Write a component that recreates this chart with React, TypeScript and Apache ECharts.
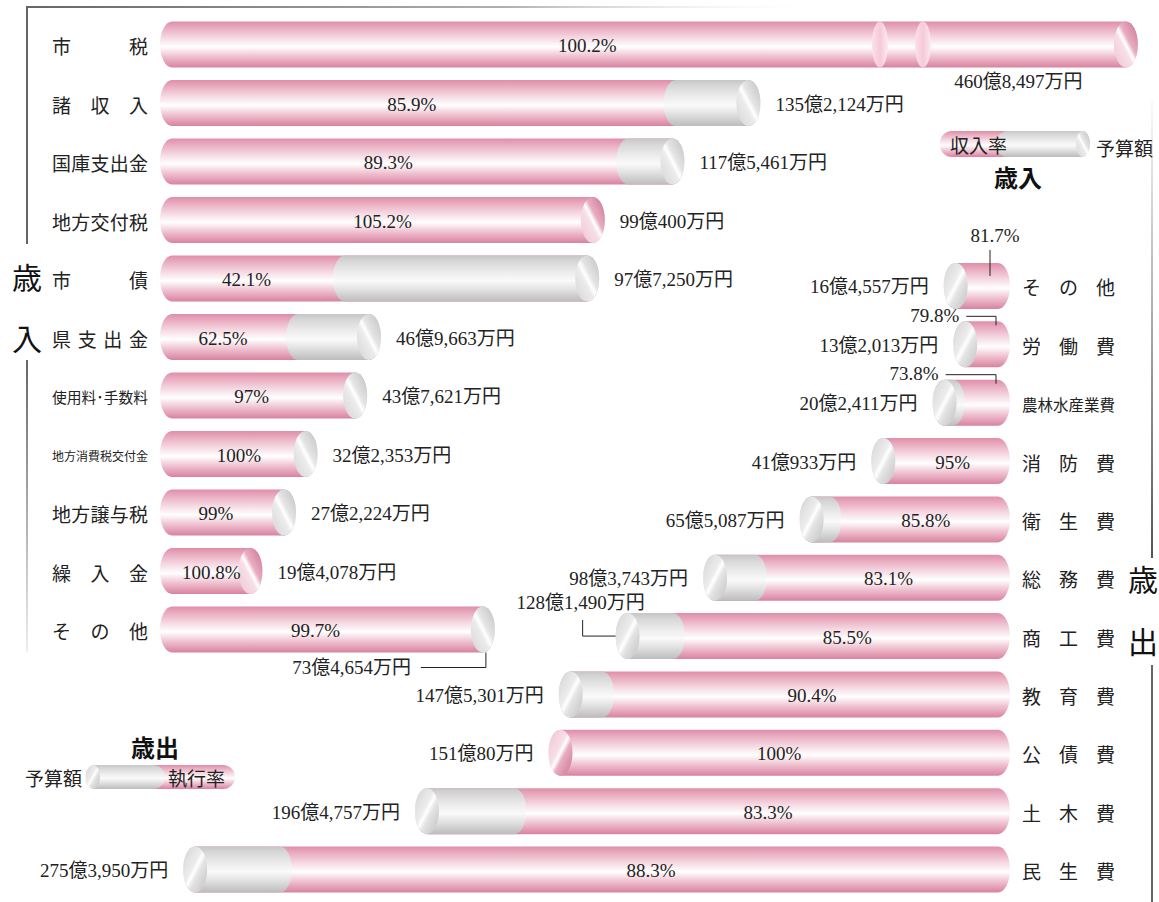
import React, { useEffect, useRef } from 'react';
import * as echarts from 'echarts';

// ===== Data =====
// 歳入 (revenue): budget in 万円, collection rate in %
const revenueCategories = ['市税', '諸収入', '国庫支出金', '地方交付税', '市債', '県支出金', '使用料･手数料', '地方消費税交付金', '地方譲与税', '繰入金', 'その他'];
const revenueBudget = [4608497, 1352124, 1175461, 990400, 977250, 469663, 437621, 322353, 272224, 194078, 734654];
const revenueRate = [100.2, 85.9, 89.3, 105.2, 42.1, 62.5, 97, 100, 99, 100.8, 99.7];

// 歳出 (expenditure): budget in 万円, execution rate in %
const expenditureCategories = ['その他', '労働費', '農林水産業費', '消防費', '衛生費', '総務費', '商工費', '教育費', '公債費', '土木費', '民生費'];
const expenditureBudget = [164557, 132013, 202411, 410933, 655087, 983743, 1281490, 1475301, 1510080, 1964757, 2753950];
const expenditureRate = [81.7, 79.8, 73.8, 95, 85.8, 83.1, 85.5, 90.4, 100, 83.3, 88.3];

// axis settings (億円)
const REV_AXIS_MAX = 224;
const REV_BREAK_MARKS = [163, 173];
const EXP_AXIS_MAX = 300;

// ===== Styles =====
const RX = 12;
const RY = 23;
const REV_CAP = 19;
const EXP_CAP = 18;
const JP = "'Noto Sans CJK JP', sans-serif";
const NUM = "'Liberation Serif', 'Noto Sans CJK JP', serif";
const TXT = '#222';
const NUM_FONT = `19px ${NUM}`;

const G = echarts.graphic.LinearGradient as any;
const pinkBody = () => new G(0, 0, 0, 1, [
  { offset: 0, color: '#df8ea8' },
  { offset: 0.12, color: '#e8a8bc' },
  { offset: 0.35, color: '#f5d8e2' },
  { offset: 0.55, color: '#ffffff' },
  { offset: 0.75, color: '#f0c4d2' },
  { offset: 1, color: '#d8829e' },
]);
const greyBody = () => new G(0, 0, 0, 1, [
  { offset: 0, color: '#c6c6c6' },
  { offset: 0.12, color: '#d6d6d6' },
  { offset: 0.35, color: '#ebebeb' },
  { offset: 0.55, color: '#fafafa' },
  { offset: 0.75, color: '#e0e0e0' },
  { offset: 1, color: '#bcbcbc' },
]);
const greyFace = (rev: boolean) => new G(0, rev ? 1 : 0, 1, rev ? 0 : 1, [
  { offset: 0, color: '#d4d4d4' },
  { offset: 0.42, color: '#ececec' },
  { offset: 0.5, color: '#ffffff' },
  { offset: 0.6, color: '#e4e4e4' },
  { offset: 1, color: '#c0c0c0' },
]);
const pinkFace = (rev: boolean) => new G(0, rev ? 1 : 0, 1, rev ? 0 : 1, [
  { offset: 0, color: '#efc4d3' },
  { offset: 0.42, color: '#f7dfe7' },
  { offset: 0.5, color: '#ffffff' },
  { offset: 0.6, color: '#e8adc0' },
  { offset: 1, color: '#c8728f' },
]);
const breakFace = () => new G(0, 0, 1, 0, [
  { offset: 0, color: '#fbe3eb' },
  { offset: 0.5, color: '#f6c9d7' },
  { offset: 1, color: '#fde9f0' },
]);

function cylPath(a: number, b: number, cy: number, rx: number, ry: number) {
  const t = cy - ry, bt = cy + ry;
  return `M${a + rx} ${t} L${b - rx} ${t} A${rx} ${ry} 0 0 1 ${b - rx} ${bt} L${a + rx} ${bt} A${rx} ${ry} 0 0 1 ${a + rx} ${t} Z`;
}
function ellPath(cx: number, cy: number, rx: number, ry: number) {
  return `M${cx - rx} ${cy} A${rx} ${ry} 0 1 0 ${cx + rx} ${cy} A${rx} ${ry} 0 1 0 ${cx - rx} ${cy} Z`;
}
function pathEl(d: string, fill: any) {
  return { type: 'path', shape: { pathData: d }, style: { fill, stroke: null } };
}
function textEl(text: string, x: number, y: number, font: string, align = 'left') {
  return { type: 'text', style: { text, x, y, font, fill: TXT, align, verticalAlign: 'middle' } };
}
function lineEl(points: number[][]) {
  return { type: 'polyline', shape: { points }, style: { stroke: '#222', lineWidth: 1, fill: null } };
}
function fmtYen(man: number) {
  const oku = Math.floor(man / 10000);
  const rest = man % 10000;
  return `${oku}億${rest.toLocaleString('en-US')}万円`;
}
function isHalf(ch: string) {
  const c = ch.charCodeAt(0);
  return c < 0x2000 || (c >= 0xff61 && c <= 0xff9f);
}
function justified(name: string, left: number, span: number, cy: number, maxF: number) {
  const chars = Array.from(name);
  const units = chars.reduce((s, c) => s + (isHalf(c) ? 0.5 : 1), 0);
  const f = Math.min(maxF, span / units);
  const font = `${f}px ${JP}`;
  if (chars.length > 5) return [textEl(name, left, cy, font)];
  const gap = chars.length > 1 ? (span - units * f) / (chars.length - 1) : 0;
  const out: any[] = [];
  let x = left;
  chars.forEach((c) => {
    out.push(textEl(c, x, cy, font));
    x += (isHalf(c) ? 0.5 : 1) * f + gap;
  });
  return out;
}

function renderRevenue(params: any, api: any) {
  const i = params.dataIndex;
  const val = api.value(0);
  const rate = api.value(1);
  const clamped = val > REV_AXIS_MAX - 1;
  const shown = clamped ? REV_AXIS_MAX - 1 : val;
  const [zx, cy] = api.coord([0, i]);
  const x0 = zx - REV_CAP;
  const xe = api.coord([shown, i])[0];
  const children: any[] = [];
  children.push(pathEl(cylPath(x0, xe, cy, RX, RY), pinkBody()));
  let pinkEnd = xe;
  if (rate < 100) {
    let xs = x0 + (xe - x0) * rate / 100 - RX;
    if (xe - xs < 2 * RX) xs = xe - 2 * RX;
    children.push(pathEl(cylPath(xs, xe, cy, RX, RY), greyBody()));
    pinkEnd = xs;
  }
  children.push(pathEl(ellPath(xe - RX, cy, RX, RY), rate <= 100 ? greyFace(true) : pinkFace(true)));
  let labelCenter = (x0 + pinkEnd) / 2;
  if (clamped) {
    const bx = REV_BREAK_MARKS.map((b) => api.coord([b, i])[0]);
    bx.forEach((b) => children.push(pathEl(ellPath(b, cy, 8, RY), breakFace())));
    labelCenter = (x0 + (bx[1] + xe) / 2) / 2 - 8;
    children.push(textEl(fmtYen(revenueBudget[i]), (bx[1] + xe) / 2 - 12, cy + 37, NUM_FONT, 'center'));
  } else if (revenueCategories[i] === 'その他') {
    children.push(textEl(fmtYen(revenueBudget[i]), xe - 84, cy + 38, NUM_FONT, 'right'));
    children.push(lineEl([[xe - 74, cy + 38], [xe - 9, cy + 38], [xe - 9, cy + RY]]));
  } else {
    children.push(textEl(fmtYen(revenueBudget[i]), xe + 15, cy + 1, NUM_FONT, 'left'));
  }
  children.push(textEl(`${rate}%`, labelCenter, cy + 1, NUM_FONT, 'center'));
  children.push(...justified(revenueCategories[i], x0 - 108, 96, cy + 1, 19));
  return { type: 'group', children };
}

function renderExpenditure(params: any, api: any) {
  const i = params.dataIndex;
  const val = api.value(0);
  const rate = api.value(1);
  const [zx, cy] = api.coord([0, i]);
  const x0 = zx + EXP_CAP;
  const xe = api.coord([val, i])[0];
  const children: any[] = [];
  children.push(pathEl(cylPath(xe, x0, cy, RX, RY), pinkBody()));
  let pinkStart = xe;
  if (rate < 100) {
    let xg = xe + (x0 - xe) * (1 - rate / 100) + RX;
    if (xg - xe < 2 * RX) xg = xe + 2 * RX;
    children.push(pathEl(cylPath(xe, xg, cy, RX, RY), greyBody()));
    pinkStart = xg;
  }
  children.push(pathEl(ellPath(xe + RX, cy, RX, RY), rate < 100 ? greyFace(false) : pinkFace(false)));
  const top = cy - RY;
  if (x0 - xe < 100) {
    if (i === 0) {
      children.push(textEl(`${rate}%`, x0 - 15, top - 27, NUM_FONT, 'center'));
      children.push(lineEl([[x0 - 20, top - 13], [x0 - 20, top + 13]]));
    } else {
      children.push(textEl(`${rate}%`, xe + 6, top - 6, NUM_FONT, 'right'));
      children.push(lineEl([[xe + 13, top - 5], [x0 - 14, top - 5], [x0 - 14, top + 4]]));
    }
  } else {
    children.push(textEl(`${rate}%`, (pinkStart + x0) / 2, cy + 1, NUM_FONT, 'center'));
  }
  if (expenditureCategories[i] === '商工費') {
    children.push(textEl(fmtYen(expenditureBudget[i]), xe - 35, cy - 34, NUM_FONT, 'center'));
    children.push(lineEl([[xe - 33, cy - 16], [xe - 33, cy], [xe, cy]]));
  } else {
    children.push(textEl(fmtYen(expenditureBudget[i]), xe - 15, cy + 1, NUM_FONT, 'right'));
  }
  children.push(...justified(expenditureCategories[i], x0 + 12, 93, cy + 1, 19));
  return { type: 'group', children };
}

function buildOption(): any {
  const lg = (x1: number, y1: number, x2: number, y2: number, stops: [number, string][]) =>
    new G(x1, y1, x2, y2, stops.map(([offset, color]) => ({ offset, color })));
  const title = (text: string, x: number, y: number) => ({
    type: 'text', style: { text, x, y, font: `30px ${JP}`, fill: '#111', align: 'center', verticalAlign: 'middle' },
  });
  const small = (text: string, x: number, y: number) => ({
    type: 'text', style: { text, x, y, font: `19px ${JP}`, fill: TXT, verticalAlign: 'middle' },
  });
  return {
    animation: false,
    backgroundColor: '#ffffff',
    grid: [
      { left: 179, top: 15.25, width: 4.3 * REV_AXIS_MAX, height: 58.5 * 11 },
      { left: 992 - 2.937 * EXP_AXIS_MAX, top: 256.8, width: 2.937 * EXP_AXIS_MAX, height: 58.35 * 11 },
    ],
    xAxis: [
      { type: 'value', gridIndex: 0, min: 0, max: REV_AXIS_MAX, show: false },
      { type: 'value', gridIndex: 1, min: 0, max: EXP_AXIS_MAX, inverse: true, show: false },
    ],
    yAxis: [
      { type: 'category', gridIndex: 0, data: revenueCategories, inverse: true, show: false },
      { type: 'category', gridIndex: 1, data: expenditureCategories, inverse: true, show: false },
    ],
    series: [
      {
        type: 'custom', xAxisIndex: 0, yAxisIndex: 0, silent: true, clip: false,
        encode: { x: 0, y: 2 },
        data: revenueCategories.map((_, i) => [revenueBudget[i] / 10000, revenueRate[i], i]),
        renderItem: renderRevenue,
      },
      {
        type: 'custom', xAxisIndex: 1, yAxisIndex: 1, silent: true, clip: false,
        encode: { x: 0, y: 2 },
        data: expenditureCategories.map((_, i) => [expenditureBudget[i] / 10000, expenditureRate[i], i]),
        renderItem: renderExpenditure,
      },
    ],
    graphic: [
      // frame lines
      { type: 'rect', shape: { x: 26, y: 6, width: 800, height: 2 }, style: { fill: lg(0, 0, 1, 0, [[0, '#666666'], [0.6, '#b0b0b0'], [1, 'rgba(255,255,255,0)']]) } },
      { type: 'rect', shape: { x: 26, y: 6, width: 2, height: 238 }, style: { fill: '#666666' } },
      { type: 'rect', shape: { x: 26, y: 360, width: 2, height: 292 }, style: { fill: lg(0, 0, 0, 1, [[0, '#666666'], [1, '#eeeeee']]) } },
      { type: 'rect', shape: { x: 1151, y: 100, width: 2, height: 458 }, style: { fill: lg(0, 0, 0, 1, [[0, '#fafafa'], [1, '#555555']]) } },
      { type: 'rect', shape: { x: 1151, y: 665, width: 2, height: 237 }, style: { fill: '#666666' } },
      // side titles
      title('歳', 27, 276),
      title('入', 27, 337),
      title('歳', 1143, 578),
      title('出', 1143, 640),
      // legend: 歳入
      { type: 'rect', shape: { x: 940, y: 131, width: 150, height: 26, r: 12 }, style: { fill: pinkBody() } },
      { type: 'rect', shape: { x: 996, y: 131, width: 94, height: 26, r: 12 }, style: { fill: greyBody() } },
      { type: 'ellipse', shape: { cx: 1083, cy: 144, rx: 7, ry: 13 }, style: { fill: greyFace(true) } },
      small('収入率', 950, 144),
      small('予算額', 1096, 147),
      { type: 'text', style: { text: '歳入', x: 1018, y: 176, font: `bold 24px ${JP}`, fill: '#111', align: 'center', verticalAlign: 'middle' } },
      // legend: 歳出
      { type: 'text', style: { text: '歳出', x: 155, y: 746, font: `bold 24px ${JP}`, fill: '#111', align: 'center', verticalAlign: 'middle' } },
      small('予算額', 25, 777),
      { type: 'rect', shape: { x: 85, y: 765, width: 150, height: 24, r: 12 }, style: { fill: pinkBody() } },
      { type: 'rect', shape: { x: 85, y: 765, width: 80, height: 24, r: 12 }, style: { fill: greyBody() } },
      { type: 'ellipse', shape: { cx: 93, cy: 777, rx: 7, ry: 12 }, style: { fill: greyFace(false) } },
      small('執行率', 168, 777),
    ],
  };
}

export default function App() {
  const ref = useRef<HTMLDivElement>(null);
  useEffect(() => {
    if (!ref.current) return;
    const chart = echarts.init(ref.current, null, { renderer: 'svg' });
    chart.setOption(buildOption());
    return () => chart.dispose();
  }, []);
  return <div ref={ref} style={{ position: 'absolute', left: 0, top: 0, width: 1159, height: 902 }} />;
}
